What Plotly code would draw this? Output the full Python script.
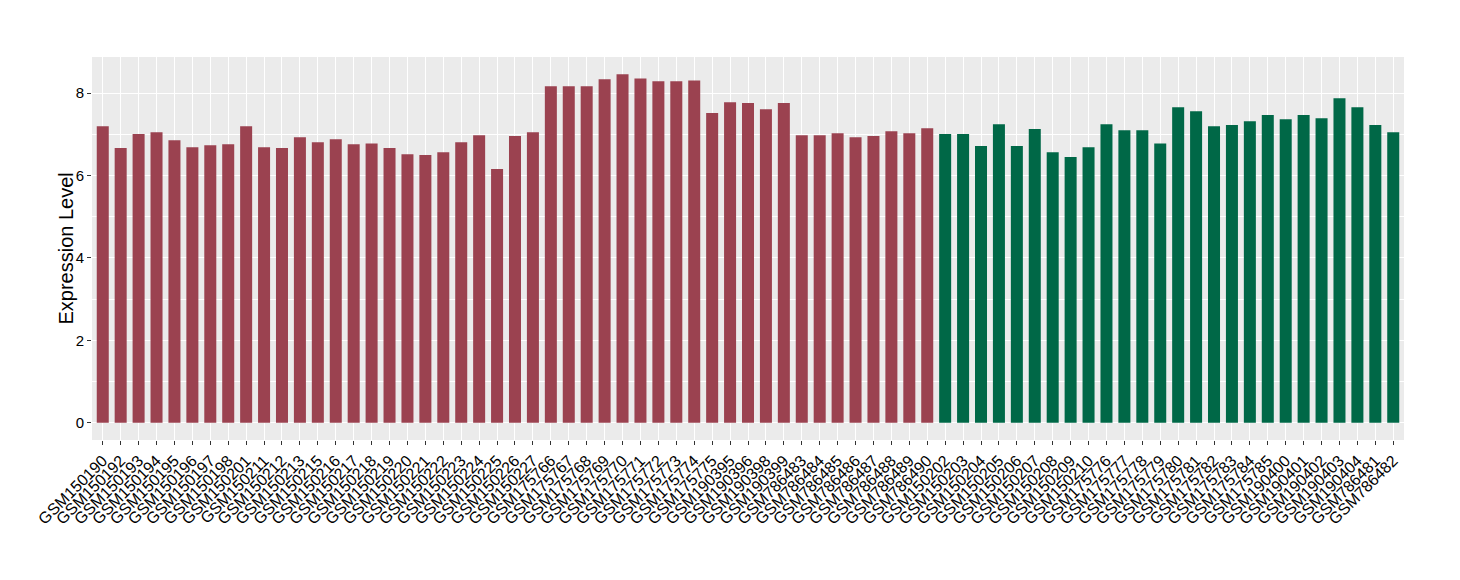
import plotly.graph_objects as go

red_labels = ["GSM150190","GSM150192","GSM150193","GSM150194","GSM150195","GSM150196","GSM150197","GSM150198","GSM150201",
              "GSM150211","GSM150212","GSM150213","GSM150215","GSM150216","GSM150217","GSM150218","GSM150219","GSM150220",
              "GSM150221","GSM150222","GSM150223","GSM150224","GSM150225","GSM150226","GSM150227",
              "GSM175766","GSM175767","GSM175768","GSM175769","GSM175770","GSM175771","GSM175772","GSM175773","GSM175774","GSM175775",
              "GSM190395","GSM190396","GSM190398","GSM190399",
              "GSM786483","GSM786484","GSM786485","GSM786486","GSM786487","GSM786488","GSM786489","GSM786490"]
red_values = [7.20,6.67,7.01,7.05,6.86,6.69,6.74,6.76,7.20,
              6.69,6.67,6.93,6.81,6.88,6.76,6.78,6.67,6.52,
              6.50,6.57,6.81,6.98,6.16,6.96,7.05,
              8.17,8.17,8.17,8.34,8.46,8.36,8.29,8.29,8.31,7.52,
              7.78,7.76,7.61,7.76,
              6.98,6.98,7.03,6.93,6.96,7.08,7.03,7.15]

green_labels = ["GSM150202","GSM150203","GSM150204","GSM150205","GSM150206","GSM150207","GSM150208","GSM150209","GSM150210",
                "GSM175776","GSM175777","GSM175778","GSM175779","GSM175780","GSM175781","GSM175782","GSM175783","GSM175784","GSM175785",
                "GSM190400","GSM190401","GSM190402","GSM190403","GSM190404",
                "GSM786481","GSM786482"]
green_values = [7.01,7.01,6.72,7.25,6.72,7.13,6.57,6.45,6.69,
                7.25,7.10,7.10,6.78,7.66,7.56,7.20,7.23,7.32,7.47,
                7.37,7.47,7.39,7.88,7.66,
                7.23,7.05]

y_title = "Expression Level"

red_color = "#9B4250"
green_color = "#006847"

order = red_labels + green_labels

fig = go.Figure()
fig.add_trace(go.Bar(x=red_labels, y=red_values, marker_color=red_color, marker_line_width=0, width=0.67, showlegend=False))
fig.add_trace(go.Bar(x=green_labels, y=green_values, marker_color=green_color, marker_line_width=0, width=0.67, showlegend=False))

fig.update_layout(
    width=1460, height=580,
    margin=dict(l=84, r=64, t=49, b=148),
    paper_bgcolor="white", plot_bgcolor="#EBEBEB",
    barmode="overlay",
    font=dict(family="Liberation Sans, Arial, sans-serif", color="black"),
)
fig.update_xaxes(
    type="category", categoryorder="array", categoryarray=order,
    tickmode="array", tickvals=order, ticktext=order,
    range=[-0.6, len(order) - 0.4],
    tickangle=-45, tickfont=dict(size=16, color="black"),
    ticks="outside", ticklen=4, tickcolor="#333333", tickwidth=1,
    showgrid=True, gridcolor="white", gridwidth=1.1,
    zeroline=False, showline=False, automargin=False,
)
fig.update_yaxes(
    range=[-0.42, 8.88], tickvals=[0, 2, 4, 6, 8],
    tickfont=dict(size=15, color="black"),
    ticks="outside", ticklen=4, tickcolor="#333333", tickwidth=1,
    showgrid=True, gridcolor="white", gridwidth=1.1,
    minor=dict(tickvals=[1, 3, 5, 7], showgrid=True, gridcolor="white", gridwidth=0.5, ticks=""),
    zeroline=False, showline=False, automargin=False,
)
fig.add_annotation(
    text=y_title, xref="paper", yref="paper", x=0, y=0.5,
    xanchor="center", yanchor="middle", xshift=-27, textangle=-90,
    showarrow=False, font=dict(size=20, color="black"),
)

fig.write_html("out.html")
